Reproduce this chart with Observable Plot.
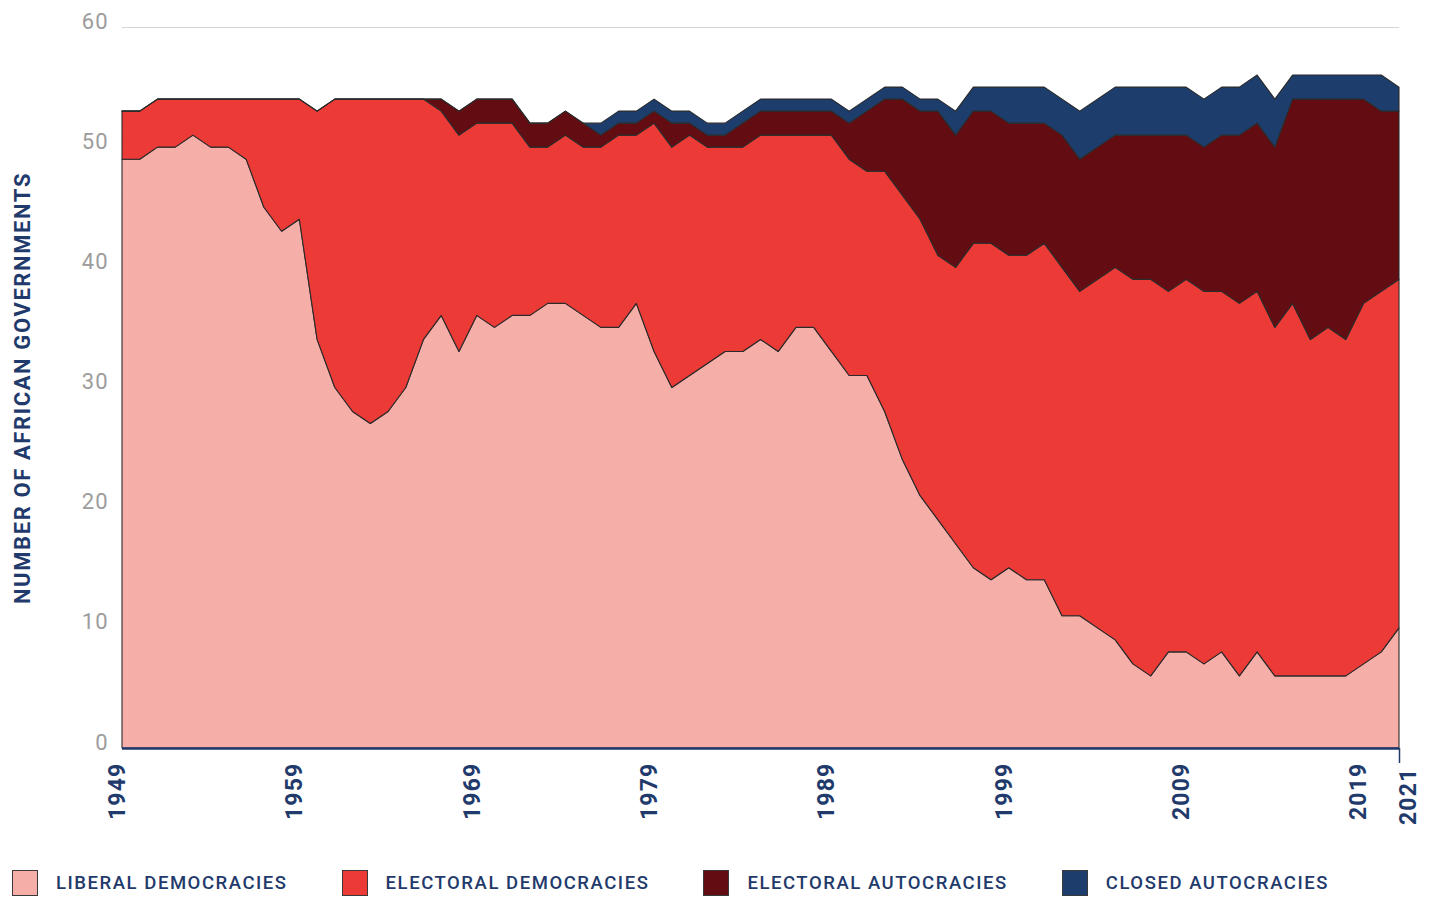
<!DOCTYPE html>
<html>
<head>
<meta charset="utf-8">
<script src="https://cdn.jsdelivr.net/npm/d3@7"></script>
<script src="https://cdn.jsdelivr.net/npm/@observablehq/plot@0.6"></script>
<style>
  html, body { margin: 0; padding: 0; background: #fff; }
  body { width: 1431px; font-family: Roboto, "Noto Sans", sans-serif; }
  #chart svg { display: block; }
  g[aria-label="x-axis tick label"] text { letter-spacing: 1.2px; }
  g[aria-label="y-axis tick label"] text { letter-spacing: 1px; }
  #legend { display: flex; align-items: center; padding-left: 12px; margin-top: 32px; }
  .item { display: flex; align-items: center; margin-right: 54px; }
  .sw { width: 24px; height: 24px; border: 1.5px solid #3a3a3a; box-sizing: content-box; }
  .lab { margin-left: 18px; font-family: Roboto, sans-serif;
         font-size: 18.5px; font-weight: 500; letter-spacing: 1.55px; color: #1f3a6b; }
</style>
</head>
<body>
<div id="chart"></div>
<div id="legend"></div>
<script>
// ---- data ----
const firstYear = 1949;
const lastYear = 2021;
const seriesNames = ["LIBERAL DEMOCRACIES", "ELECTORAL DEMOCRACIES", "ELECTORAL AUTOCRACIES", "CLOSED AUTOCRACIES"];
const seriesColors = ["#f6aea9", "#ec3a36", "#630d12", "#1d3d6c"];

const liberal = [
  49,49,50,50,51,50,50,49,45,43,
  44,34,30,28,27,28,30,34,36,33,
  36,35,36,36,37,37,36,35,35,37,
  33,30,31,32,33,33,34,33,35,35,
  33,31,31,28,24,21,19,17,15,14,
  15,14,14,11,11,10,9,7,6,8,
  8,7,8,6,8,6,6,6,6,6,
  7,8,10
];
const electoral = [
  4,4,4,4,3,4,4,5,9,11,
  10,19,24,26,27,26,24,20,17,18,
  16,17,16,14,13,14,14,15,16,14,
  19,20,20,18,17,17,17,18,16,16,
  18,18,17,20,22,23,22,23,27,28,
  26,27,28,29,27,29,31,32,33,30,
  31,31,30,31,30,29,31,28,29,28,
  30,30,29
];
const electoralAutocracies = [
  0,0,0,0,0,0,0,0,0,0,
  0,0,0,0,0,0,0,0,1,2,
  2,2,2,2,2,2,2,1,1,1,
  1,2,1,1,1,2,2,2,2,2,
  2,3,5,6,8,9,12,11,11,11,
  11,11,10,11,11,11,11,12,12,13,
  12,12,13,14,14,15,17,20,19,20,
  17,15,14
];
const closedAutocracies = [
  0,0,0,0,0,0,0,0,0,0,
  0,0,0,0,0,0,0,0,0,0,
  0,0,0,0,0,0,0,1,1,1,
  1,1,1,1,1,1,1,1,1,1,
  1,1,1,1,1,1,1,2,2,2,
  3,3,3,3,4,4,4,4,4,4,
  4,4,4,4,4,4,2,2,2,2,
  2,3,2
];
const xTicks = [1949, 1959, 1969, 1979, 1989, 1999, 2009, 2019];
const yTicks = [0, 10, 20, 30, 40, 50, 60];
const yTitle = "NUMBER OF AFRICAN GOVERNMENTS";

// ---- build tidy table ----
const years = d3.range(firstYear, lastYear + 1);
const seriesValues = [liberal, electoral, electoralAutocracies, closedAutocracies];
const rows = [];
seriesNames.forEach((name, s) => {
  years.forEach((year, i) => rows.push({year, series: name, value: seriesValues[s][i]}));
});

const navy = "#1f3a6b";
const xLabelStyle = {tickRotate: -90, tickFormat: d => String(d), fontSize: 23, fontWeight: 700,
                     fill: navy, label: null};

const chart = Plot.plot({
  width: 1431,
  height: 838,
  marginLeft: 122,
  marginRight: 32,
  marginTop: 27,
  marginBottom: 90,
  style: {fontFamily: "Roboto, sans-serif", background: "#fff", overflow: "visible"},
  x: {domain: [firstYear, lastYear]},
  y: {domain: [0, 60]},
  color: {domain: seriesNames, range: seriesColors},
  marks: [
    Plot.gridY(yTicks, {stroke: "#d6d6d6", strokeOpacity: 1, strokeWidth: 1}),
    Plot.areaY(rows, {x: "year", y: "value", z: "series", fill: "series", order: seriesNames,
                      stroke: "#2b2b2b", strokeWidth: 1.1}),
    Plot.ruleY([0], {stroke: navy, strokeWidth: 2.5}),
    Plot.axisY(yTicks, {tickSize: 0, tickPadding: 14, fill: "#9c9c9c", fontSize: 22, dy: -6, label: null}),
    Plot.axisX(xTicks, {...xLabelStyle, tickSize: 0, tickPadding: 14, dx: -5}),
    Plot.axisX([lastYear], {...xLabelStyle, tickSize: 0, tickPadding: 19, dx: 9}),
    Plot.axisX([lastYear], {tickSize: 15, text: null, stroke: navy, strokeWidth: 1.5, label: null}),
    Plot.text([yTitle], {frameAnchor: "left", textAnchor: "middle", dx: -100, rotate: -90,
                         fontSize: 22, fontWeight: 700, fill: navy})
  ]
});
document.getElementById("chart").appendChild(chart);
d3.select(chart).selectAll("text").filter(function() { return this.textContent === yTitle; })
  .style("letter-spacing", "1.6px");

// ---- legend ----
const legend = d3.select("#legend");
seriesNames.forEach((name, i) => {
  const it = legend.append("div").attr("class", "item");
  it.append("div").attr("class", "sw").style("background", seriesColors[i]);
  it.append("div").attr("class", "lab").text(name);
});
</script>
</body>
</html>
